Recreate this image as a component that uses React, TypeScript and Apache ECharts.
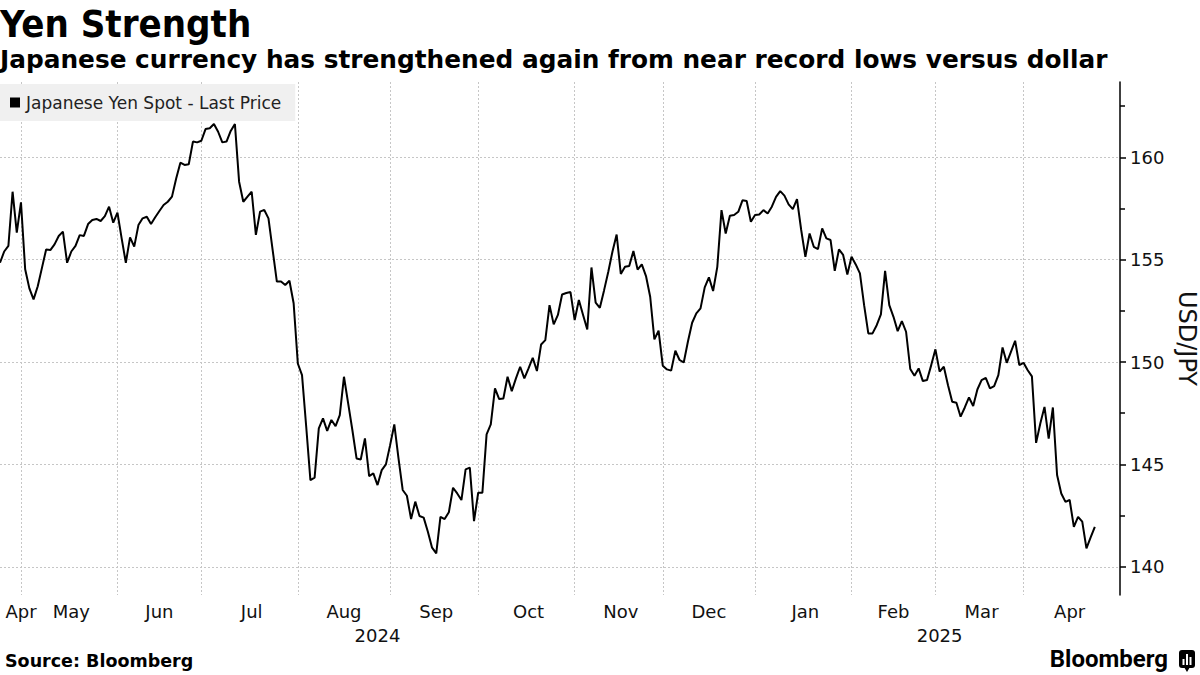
import React, { useEffect, useRef } from "react";
import * as echarts from "echarts";

// ---------- data (USD/JPY spot, one value per weekday) ----------
const START_DATE = "2024-04-23"; // first weekday on the axis
const CATEGORY_COUNT = 268; // weekdays on the axis (data + empty room up to the axis)

const yenApr2024 = [154.85, 155.4, 155.67, 158.32, 156.32, 157.8];
const yenMay2024 = [154.53, 153.6, 153.06, 153.7, 154.6, 155.5, 155.47, 155.75, 156.16, 156.37, 154.85, 155.4, 155.67, 156.2, 156.16, 156.74, 156.94, 156.99, 156.89, 157.13, 157.59, 156.81, 157.3];
const yenJun2024 = [156.04, 154.85, 156.09, 155.64, 156.69, 157.02, 157.1, 156.74, 157.07, 157.38, 157.67, 157.83, 158.08, 158.97, 159.74, 159.63, 159.66, 160.77, 160.73, 160.81];
const yenJul2024 = [161.38, 161.42, 161.63, 161.25, 160.73, 160.77, 161.29, 161.63, 158.81, 157.83, 158.08, 158.32, 156.21, 157.35, 157.43, 157.02, 155.47, 153.93, 153.93, 153.76, 153.97, 152.87, 149.93];
const yenAug2024 = [149.36, 146.84, 144.23, 144.35, 146.76, 147.25, 146.64, 147.17, 146.87, 147.41, 149.28, 147.98, 146.68, 145.29, 145.24, 146.27, 144.43, 144.56, 143.99, 144.72, 145.0, 145.94];
const yenSep2024 = [146.95, 145.29, 143.75, 143.47, 142.33, 143.18, 142.48, 142.4, 141.71, 140.93, 140.65, 142.44, 142.33, 142.66, 143.86, 143.58, 143.26, 144.76, 144.84, 142.23, 143.62];
const yenOct2024 = [143.62, 146.47, 146.95, 148.71, 148.19, 148.22, 149.28, 148.58, 149.2, 149.77, 149.2, 149.69, 150.21, 149.56, 150.86, 151.07, 152.78, 151.84, 152.3, 153.3, 153.37, 153.42, 152.05];
const yenNov2024 = [153.03, 152.3, 151.59, 154.62, 152.9, 152.65, 153.5, 154.4, 155.39, 156.23, 154.3, 154.65, 154.69, 155.42, 154.52, 154.77, 154.2, 153.19, 151.11, 151.53, 149.82];
const yenDec2024 = [149.64, 149.58, 150.55, 150.1, 149.98, 151.0, 151.92, 152.38, 152.62, 153.65, 154.14, 153.47, 154.65, 157.42, 156.28, 157.15, 157.18, 157.34, 157.9, 157.87, 156.85, 157.18];
const yenJan2025 = [157.21, 157.42, 157.26, 157.59, 158.07, 158.35, 158.13, 157.7, 157.47, 157.96, 156.45, 155.14, 156.28, 155.63, 155.52, 156.53, 156.04, 155.96, 154.46, 155.5, 155.23, 154.28, 155.14];
const yenFeb2025 = [154.77, 154.33, 152.78, 151.4, 151.4, 151.8, 152.33, 154.45, 152.78, 152.21, 151.51, 152.0, 151.48, 149.66, 149.33, 149.69, 149.07, 149.12, 149.85, 150.62];
const yenMar2025 = [149.53, 149.77, 148.87, 148.06, 148.01, 147.33, 147.78, 148.27, 147.85, 148.66, 149.12, 149.23, 148.71, 148.82, 149.36, 150.71, 149.96, 150.5, 151.04, 149.85, 149.96];
const yenApr2025 = [149.6, 149.3, 146.05, 147.0, 147.81, 146.26, 147.78, 144.48, 143.58, 143.17, 143.26, 141.95, 142.44, 142.2, 140.9, 141.43, 141.95];

const MONTH_NAMES = ["Jan", "Feb", "Mar", "Apr", "May", "Jun", "Jul", "Aug", "Sep", "Oct", "Nov", "Dec"];
const Y_MAJOR_TICKS = [140, 145, 150, 155, 160];
const Y_MINOR_TICKS = [142.5, 147.5, 152.5, 157.5, 162.5];
const Y_MIN = 138.62;
const Y_MAX = 163.68;

const SERIES_NAME = "Japanese Yen Spot - Last Price";
const TITLE = "Yen Strength";
const SUBTITLE = "Japanese currency has strengthened again from near record lows versus dollar";
const SOURCE = "Source: Bloomberg";
const Y_NAME = "USD/JPY";

// ---------- helpers ----------
const FONT = "'DejaVu Sans', sans-serif";
const FONT_NARROW = "'DejaVu Sans Condensed', 'DejaVu Sans', sans-serif";

function buildWeekdays(start: string, count: number): string[] {
  const out: string[] = [];
  const d = new Date(start + "T00:00:00Z");
  while (out.length < count) {
    const wd = d.getUTCDay();
    if (wd !== 0 && wd !== 6) out.push(d.toISOString().slice(0, 10));
    d.setUTCDate(d.getUTCDate() + 1);
  }
  return out;
}

export default function App() {
  const ref = useRef<HTMLDivElement | null>(null);

  useEffect(() => {
    document.body.style.margin = "0";
    if (!ref.current) return;
    const chart = echarts.init(ref.current, undefined, { renderer: "svg" });

    const values = [
      ...yenApr2024, ...yenMay2024, ...yenJun2024, ...yenJul2024, ...yenAug2024,
      ...yenSep2024, ...yenOct2024, ...yenNov2024, ...yenDec2024, ...yenJan2025,
      ...yenFeb2025, ...yenMar2025, ...yenApr2025,
    ];
    const dates = buildWeekdays(START_DATE, CATEGORY_COUNT);
    const lastData = values.length - 1;

    const monthRanges: { key: string; m: number; first: number; last: number }[] = [];
    const yearRanges: { y: string; first: number; last: number }[] = [];
    dates.forEach((d, i) => {
      const key = d.slice(0, 7);
      const mr = monthRanges[monthRanges.length - 1];
      if (!mr || mr.key !== key) monthRanges.push({ key, m: Number(d.slice(5, 7)) - 1, first: i, last: i });
      else mr.last = i;
      const y = d.slice(0, 4);
      const yr = yearRanges[yearRanges.length - 1];
      if (!yr || yr.y !== y) yearRanges.push({ y, first: i, last: i });
      else yr.last = i;
    });

    const monthLabels = new Map<number, string>();
    const boundaries = new Set<number>();
    monthRanges.forEach((r) => {
      if (r.last - r.first < 2) return;
      const idx = Math.max(5, Math.floor((r.first + r.last) / 2));
      monthLabels.set(idx, MONTH_NAMES[r.m]);
      if (r.last < lastData) boundaries.add(r.last);
    });
    const yearLabels = new Map<number, string>();
    yearRanges.forEach((r) => yearLabels.set(Math.floor((r.first + r.last) / 2), r.y));

    const gridLine = { color: "#c6c6c6", width: 1, type: [2, 2] as number[] };

    const option: any = {
      animation: false,
      backgroundColor: "#ffffff",
      title: [
        { text: TITLE, left: 0, top: 5, padding: 0, textStyle: { fontFamily: FONT_NARROW, fontSize: 38, fontWeight: "bold", color: "#000" } },
        { text: SUBTITLE, left: 0, top: 47, padding: 0, textStyle: { fontFamily: FONT, fontSize: 24.8, fontWeight: "bold", color: "#000" } },
        { text: SOURCE, left: 5, top: 652, padding: 0, textStyle: { fontFamily: FONT, fontSize: 17.5, fontWeight: "bold", color: "#000" } },
      ],
      legend: {
        left: 0,
        top: 84,
        padding: [10, 14, 10, 10],
        backgroundColor: "#f0f0f0",
        icon: "rect",
        itemWidth: 10,
        itemHeight: 10,
        itemGap: 0,
        selectedMode: false,
        data: [SERIES_NAME],
        textStyle: { fontFamily: FONT, fontSize: 17, color: "#222", lineHeight: 17, padding: [0, 0, 0, 1] },
      },
      grid: { left: 0, right: 80, top: 82, bottom: 80, containLabel: false, outerBoundsMode: "none" },
      xAxis: [
        {
          type: "category",
          data: dates,
          boundaryGap: false,
          axisLine: { show: false },
          axisTick: { show: false },
          axisLabel: {
            interval: (i: number) => monthLabels.has(i),
            formatter: (_v: string, i: number) => monthLabels.get(i) ?? "",
            fontFamily: FONT,
            fontSize: 18,
            color: "#111",
            margin: 7,
          },
          splitLine: { show: true, interval: (i: number) => boundaries.has(i), lineStyle: gridLine },
        },
        {
          type: "category",
          data: dates,
          boundaryGap: false,
          position: "bottom",
          offset: 24,
          axisLine: { show: false },
          axisTick: { show: false },
          splitLine: { show: false },
          axisLabel: {
            interval: (i: number) => yearLabels.has(i),
            formatter: (_v: string, i: number) => yearLabels.get(i) ?? "",
            fontFamily: FONT,
            fontSize: 18,
            color: "#111",
            margin: 7,
          },
        },
      ],
      yAxis: [
        {
          type: "value",
          position: "right",
          min: Y_MIN,
          max: Y_MAX,
          axisLine: { show: true, lineStyle: { color: "#000", width: 1.5 } },
          axisTick: { show: true, customValues: Y_MAJOR_TICKS, length: 6, lineStyle: { color: "#000", width: 1.5 } },
          axisLabel: { customValues: Y_MAJOR_TICKS, margin: 10, fontFamily: FONT, fontSize: 18, color: "#111" },
          splitLine: { show: true, lineStyle: gridLine },
          name: Y_NAME,
          nameLocation: "middle",
          nameRotate: -90,
          nameGap: 50,
          nameTextStyle: { fontFamily: FONT, fontSize: 24, color: "#111" },
        },
        {
          type: "value",
          position: "right",
          min: Y_MIN,
          max: Y_MAX,
          axisLine: { show: false },
          axisTick: { show: true, customValues: Y_MINOR_TICKS, length: 5, lineStyle: { color: "#000", width: 1.5 } },
          axisLabel: { show: false },
          splitLine: { show: false },
        },
      ],
      series: [
        {
          type: "line",
          name: SERIES_NAME,
          data: values,
          xAxisIndex: 0,
          yAxisIndex: 0,
          symbol: "none",
          lineStyle: { color: "#000", width: 2 },
          itemStyle: { color: "#000" },
        },
      ],
      graphic: [
        {
          type: "text",
          right: 32,
          top: 647,
          style: { text: "Bloomberg", fontFamily: "Roboto, 'Liberation Sans', sans-serif", fontWeight: "bold", fontSize: 24, fill: "#000" },
        },
        {
          type: "group",
          left: 1179,
          top: 650,
          children: [
            { type: "rect", shape: { x: 0, y: 0, width: 16, height: 18, r: 3 }, style: { fill: "#000" } },
            { type: "polygon", shape: { points: [[5, 17], [11, 17], [8, 22]] }, style: { fill: "#000" } },
            { type: "rect", shape: { x: 3.5, y: 9, width: 2, height: 6 }, style: { fill: "#fff" } },
            { type: "rect", shape: { x: 7, y: 4, width: 2, height: 11 }, style: { fill: "#fff" } },
            { type: "rect", shape: { x: 10.5, y: 7, width: 2, height: 8 }, style: { fill: "#fff" } },
          ],
        },
      ],
    };

    chart.setOption(option);
    return () => chart.dispose();
  }, []);

  return <div ref={ref} style={{ position: "absolute", left: 0, top: 0, width: 1200, height: 675 }} />;
}
